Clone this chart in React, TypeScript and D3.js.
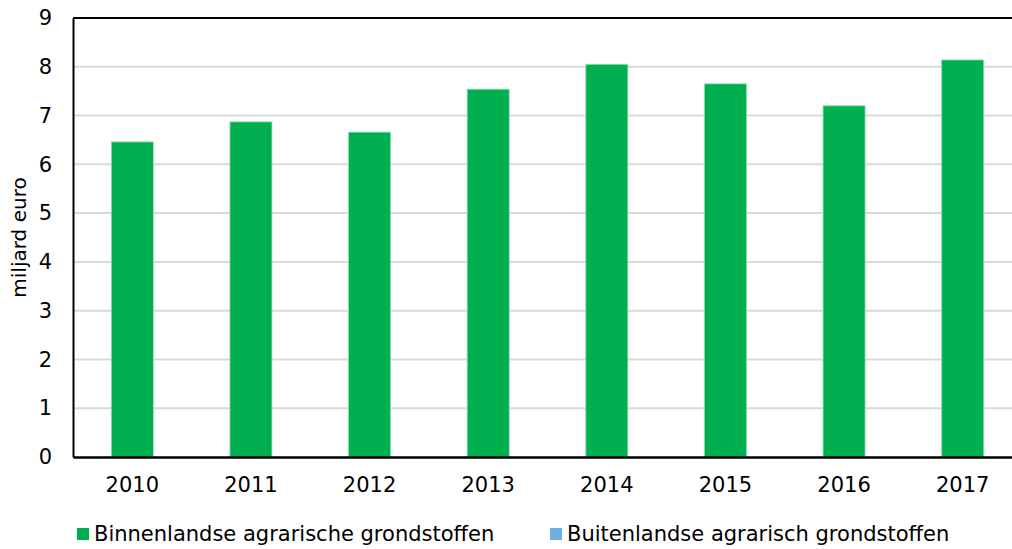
import { useEffect, useRef } from "react";
import * as d3 from "d3";

// Gegevens (miljard euro)
const jaren = ["2010", "2011", "2012", "2013", "2014", "2015", "2016", "2017"];
const binnenlands = [6.46, 6.87, 6.66, 7.54, 8.05, 7.65, 7.2, 8.14];
const buitenlands = [0, 0, 0, 0, 0, 0, 0, 0];
const reeksNamen = ["Binnenlandse agrarische grondstoffen", "Buitenlandse agrarisch grondstoffen"];
const reeksKleuren = ["#00AF50", "#6FAEE0"];
const yTicks = [0, 1, 2, 3, 4, 5, 6, 7, 8, 9];

const W = 1012;
const H = 549;
const FONT = "Verdana, 'DejaVu Sans', sans-serif";

const App = () => {
  const ref = useRef<SVGSVGElement>(null);

  useEffect(() => {
    if (!ref.current) return;
    const root = d3.select(ref.current);
    root.selectAll("*").remove();

    const margin = { top: 18, right: -10, bottom: 92, left: 73 };
    const width = W - margin.left - margin.right;
    const height = H - margin.top - margin.bottom;

    const g = root.append("g").attr("transform", `translate(${margin.left},${margin.top})`);

    const x = d3.scaleBand().domain(jaren).range([0, width]).paddingInner(0.646).paddingOuter(0.323);
    const y = d3.scaleLinear().domain([0, 9]).range([height, 0]);

    // rasterlijnen
    g.append("g")
      .selectAll("line")
      .data(yTicks.filter((t) => t > 0 && t < 9))
      .enter()
      .append("line")
      .attr("x1", 0)
      .attr("x2", width)
      .attr("y1", (d) => y(d))
      .attr("y2", (d) => y(d))
      .attr("stroke", "#d9d9d9")
      .attr("stroke-width", 2);

    // gestapelde staven
    const tabel = jaren.map((j, i) => ({ jaar: j, b0: binnenlands[i], b1: buitenlands[i] }));
    const stapels = d3.stack<any>().keys(["b0", "b1"])(tabel);

    g.selectAll(".reeks")
      .data(stapels)
      .enter()
      .append("g")
      .attr("fill", (d, i) => reeksKleuren[i])
      .selectAll("rect")
      .data((d) => d)
      .enter()
      .append("rect")
      .attr("x", (d: any) => x(d.data.jaar)!)
      .attr("width", x.bandwidth())
      .attr("y", (d) => y(d[1]))
      .attr("height", (d) => y(d[0]) - y(d[1]))
      .attr("stroke", "#8fdcb0")
      .attr("stroke-width", (d) => (d[1] - d[0] > 0 ? 0.8 : 0));

    // bovenrand
    g.append("line")
      .attr("x1", 0)
      .attr("x2", width)
      .attr("y1", 0)
      .attr("y2", 0)
      .attr("stroke", "#000")
      .attr("stroke-width", 2);

    // assen
    const yAxis = g.append("g").call(d3.axisLeft(y).tickValues(yTicks).tickSize(0).tickPadding(21).tickFormat(d3.format("d")));
    yAxis.select(".domain").attr("stroke", "#000").attr("stroke-width", 2);
    yAxis.selectAll("text").style("font-family", FONT).style("font-size", "21px").attr("fill", "#000");

    const xAxis = g
      .append("g")
      .attr("transform", `translate(0,${height})`)
      .call(d3.axisBottom(x).tickSize(0).tickPadding(20));
    xAxis.select(".domain").attr("stroke", "#000").attr("stroke-width", 2.5);
    xAxis.selectAll("text").style("font-family", FONT).style("font-size", "21px").attr("fill", "#000");

    // y-as titel
    g.append("text")
      .attr("transform", `translate(${-47},${height / 2}) rotate(-90)`)
      .attr("text-anchor", "middle")
      .style("font-family", FONT)
      .style("font-size", "20px")
      .attr("fill", "#000")
      .text("miljard euro");

    // legenda
    const legX = [77, 550];
    const leg = root
      .append("g")
      .selectAll("g")
      .data(reeksNamen)
      .enter()
      .append("g")
      .attr("transform", (d, i) => `translate(${legX[i]},528)`);
    leg.append("rect").attr("width", 12).attr("height", 12).attr("fill", (d, i) => reeksKleuren[i]);
    leg
      .append("text")
      .attr("x", 17)
      .attr("y", 13)
      .style("font-family", FONT)
      .style("font-size", "21px")
      .attr("fill", "#000")
      .text((d) => d);
  }, []);

  return (
    <svg
      ref={ref}
      width={W}
      height={H}
      style={{ position: "absolute", left: 0, top: 0, background: "#fff" }}
    />
  );
};

export default App;
